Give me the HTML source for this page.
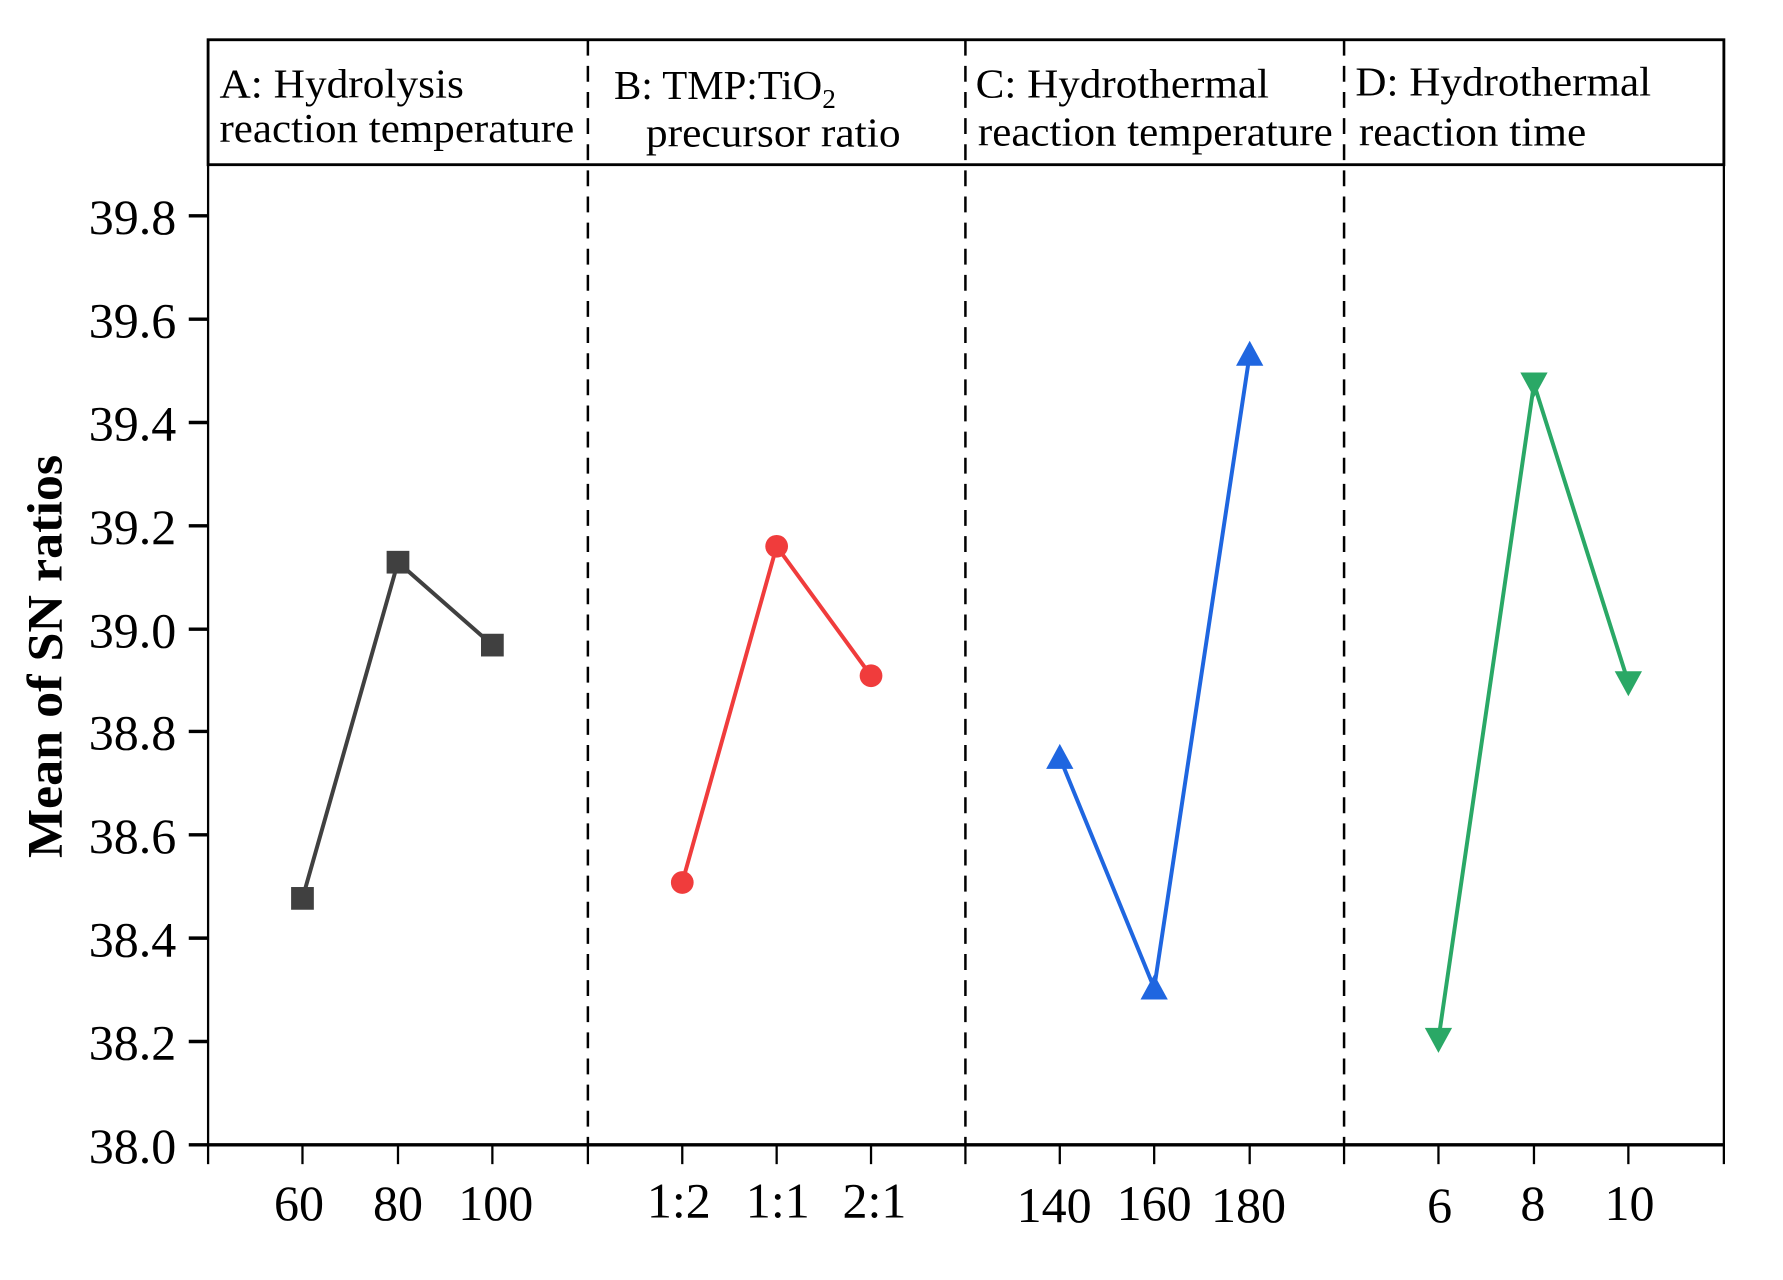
<!DOCTYPE html>
<html><head><meta charset="utf-8"><style>html,body{margin:0;padding:0;background:#fff}svg{display:block}</style></head>
<body>
<svg width="1783" height="1280" viewBox="0 0 1568 1127" preserveAspectRatio="none" xmlns="http://www.w3.org/2000/svg" font-family="Liberation Serif, serif">
<rect width="1568" height="1127" fill="#fff"/>
<rect x="183" y="35" width="1333" height="110" fill="none" stroke="#000" stroke-width="2.5"/>
<line x1="183" y1="145" x2="183" y2="1008" stroke="#000" stroke-width="2"/>
<line x1="1516" y1="145" x2="1516" y2="1025" stroke="#000" stroke-width="2"/>
<g stroke="#000" stroke-width="2.2" stroke-dasharray="14,9">
<line x1="517" y1="35" x2="517" y2="1008"/>
<line x1="849" y1="35" x2="849" y2="1008"/>
<line x1="1182" y1="35" x2="1182" y2="1008"/>
</g>
<line x1="183" y1="1008" x2="1516" y2="1008" stroke="#000" stroke-width="3"/>
<g stroke="#000" stroke-width="2">
<line x1="183" y1="1008" x2="183" y2="1025"/><line x1="266" y1="1008" x2="266" y2="1025"/><line x1="350" y1="1008" x2="350" y2="1025"/><line x1="433" y1="1008" x2="433" y2="1025"/><line x1="517" y1="1008" x2="517" y2="1025"/><line x1="600" y1="1008" x2="600" y2="1025"/><line x1="683" y1="1008" x2="683" y2="1025"/><line x1="766" y1="1008" x2="766" y2="1025"/><line x1="849" y1="1008" x2="849" y2="1025"/><line x1="932" y1="1008" x2="932" y2="1025"/><line x1="1015" y1="1008" x2="1015" y2="1025"/><line x1="1099" y1="1008" x2="1099" y2="1025"/><line x1="1182" y1="1008" x2="1182" y2="1025"/><line x1="1265" y1="1008" x2="1265" y2="1025"/><line x1="1349" y1="1008" x2="1349" y2="1025"/><line x1="1432" y1="1008" x2="1432" y2="1025"/>
</g>
<g stroke="#000" stroke-width="3">
<line x1="166" y1="1008" x2="183" y2="1008"/><line x1="166" y1="917" x2="183" y2="917"/><line x1="166" y1="826" x2="183" y2="826"/><line x1="166" y1="735" x2="183" y2="735"/><line x1="166" y1="644" x2="183" y2="644"/><line x1="166" y1="554" x2="183" y2="554"/><line x1="166" y1="463" x2="183" y2="463"/><line x1="166" y1="372" x2="183" y2="372"/><line x1="166" y1="281" x2="183" y2="281"/><line x1="166" y1="190" x2="183" y2="190"/>
</g>
<g font-size="44" text-anchor="end" fill="#000">
<text x="155" y="1024">38.0</text><text x="155" y="933">38.2</text><text x="155" y="842">38.4</text><text x="155" y="751">38.6</text><text x="155" y="660">38.8</text><text x="155" y="570">39.0</text><text x="155" y="479">39.2</text><text x="155" y="388">39.4</text><text x="155" y="297">39.6</text><text x="155" y="206">39.8</text>
</g>
<g font-size="44" text-anchor="middle" fill="#000">
<text x="263" y="1074">60</text><text x="350" y="1074">80</text><text x="436" y="1074">100</text>
<text x="597" y="1072">1:2</text><text x="684" y="1072">1:1</text><text x="769" y="1072">2:1</text>
<text x="927" y="1076">140</text><text x="1015" y="1074">160</text><text x="1098" y="1076">180</text>
<text x="1266" y="1076">6</text><text x="1348" y="1074">8</text><text x="1433" y="1074">10</text>
</g>
<text transform="translate(54,578) rotate(-90)" font-size="44" font-weight="bold" text-anchor="middle" textLength="355" lengthAdjust="spacingAndGlyphs">Mean of SN ratios</text>
<g font-size="36" fill="#000">
<text x="193" y="86" textLength="215" lengthAdjust="spacingAndGlyphs">A: Hydrolysis</text><text x="193" y="125" textLength="312" lengthAdjust="spacingAndGlyphs">reaction temperature</text>
<text x="540" y="87">B:  TMP:TiO<tspan font-size="24" dy="8">2</tspan></text><text x="568" y="129" textLength="224" lengthAdjust="spacingAndGlyphs">precursor ratio</text>
<text x="858" y="86" textLength="258" lengthAdjust="spacingAndGlyphs">C: Hydrothermal</text><text x="860" y="128" textLength="312" lengthAdjust="spacingAndGlyphs">reaction temperature</text>
<text x="1192" y="84" textLength="260" lengthAdjust="spacingAndGlyphs">D: Hydrothermal</text><text x="1195" y="128" textLength="200" lengthAdjust="spacingAndGlyphs">reaction time</text>
</g>
<polyline points="266,791 350,495 433,568" fill="none" stroke="#404040" stroke-width="3.5"/>
<g fill="#404040"><rect x="256" y="781" width="20" height="20"/><rect x="340" y="485" width="20" height="20"/><rect x="423" y="558" width="20" height="20"/></g>
<polyline points="600,777 683,481 766,595" fill="none" stroke="#f03c3c" stroke-width="3.5"/>
<g fill="#f03c3c"><circle cx="600" cy="777" r="10"/><circle cx="683" cy="481" r="10"/><circle cx="766" cy="595" r="10"/></g>
<polyline points="932,667 1015,870 1099,312" fill="none" stroke="#1f66e0" stroke-width="3.5"/>
<g fill="#1f66e0"><polygon points="932,655 944,677 920,677"/><polygon points="1015,858 1027,880 1003,880"/><polygon points="1099,300 1111,322 1087,322"/></g>
<polyline points="1265,915 1349,338 1432,601" fill="none" stroke="#2aa866" stroke-width="3.5"/>
<g fill="#2aa866"><polygon points="1265,927 1253,905 1277,905"/><polygon points="1349,350 1337,328 1361,328"/><polygon points="1432,613 1420,591 1444,591"/></g>
</svg>
</body></html>
